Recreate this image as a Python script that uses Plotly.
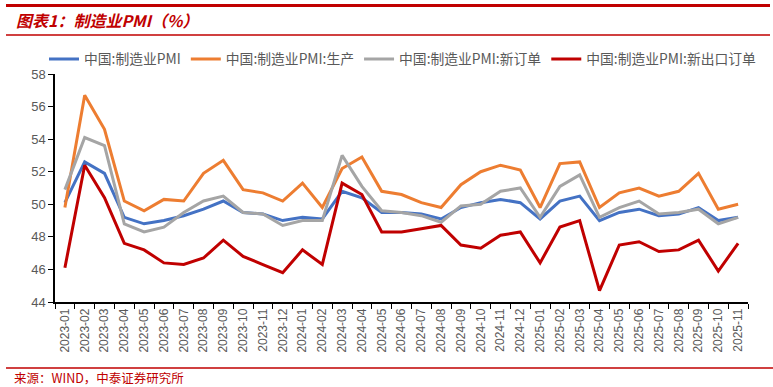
import plotly.graph_objects as go

months = [f"{y}-{m:02d}" for y in (2023, 2024, 2025) for m in range(1, 13)][:35]

pmi = [50.1, 52.6, 51.9, 49.2, 48.8, 49.0, 49.3, 49.7, 50.2, 49.5, 49.4, 49.0,
       49.2, 49.1, 50.8, 50.4, 49.5, 49.5, 49.4, 49.1, 49.8, 50.1, 50.3, 50.1,
       49.1, 50.2, 50.5, 49.0, 49.5, 49.7, 49.3, 49.4, 49.8, 49.0, 49.2]
production = [49.8, 56.7, 54.6, 50.2, 49.6, 50.3, 50.2, 51.9, 52.7, 50.9, 50.7, 50.2,
              51.3, 49.8, 52.2, 52.9, 50.8, 50.6, 50.1, 49.8, 51.2, 52.0, 52.4, 52.1,
              49.8, 52.5, 52.6, 49.8, 50.7, 51.0, 50.5, 50.8, 51.9, 49.7, 50.0]
new_orders = [50.9, 54.1, 53.6, 48.8, 48.3, 48.6, 49.5, 50.2, 50.5, 49.5, 49.4, 48.7,
              49.0, 49.0, 53.0, 51.1, 49.6, 49.5, 49.3, 48.9, 49.9, 50.0, 50.8, 51.0,
              49.2, 51.1, 51.8, 49.2, 49.8, 50.2, 49.4, 49.5, 49.7, 48.8, 49.2]
export_orders = [46.1, 52.4, 50.4, 47.6, 47.2, 46.4, 46.3, 46.7, 47.8, 46.8, 46.3, 45.8,
                 47.2, 46.3, 51.3, 50.6, 48.3, 48.3, 48.5, 48.7, 47.5, 47.3, 48.1, 48.3,
                 46.4, 48.6, 49.0, 44.7, 47.5, 47.7, 47.1, 47.2, 47.8, 45.9, 47.6]

series_names = ["中国:制造业PMI", "中国:制造业PMI:生产", "中国:制造业PMI:新订单", "中国:制造业PMI:新出口订单"]
series_values = [pmi, production, new_orders, export_orders]
series_colors = ["#4472C4", "#ED7D31", "#A5A5A5", "#C00000"]

W, H = 773, 387
L, R, T, B = 55, 25, 74, 85
pw, ph = W - L - R, H - T - B

def px(x):
    return (x - L) / pw

def py(y):
    return (H - B - y) / ph

fig = go.Figure()
for name, vals, col in zip(series_names, series_values, series_colors):
    fig.add_trace(go.Scatter(x=months, y=vals, name=name, mode="lines",
                             line=dict(color=col, width=3)))

font_fam = "Liberation Sans, Noto Sans CJK SC, sans-serif"
fig.update_layout(
    width=W, height=H,
    margin=dict(l=L, r=R, t=T, b=B, autoexpand=False),
    paper_bgcolor="white", plot_bgcolor="white",
    font=dict(family=font_fam, color="#595959", size=12),
    showlegend=True,
    legend=dict(orientation="h", x=px(44), y=py(59), xanchor="left", yanchor="middle",
                font=dict(family="Noto Sans CJK SC", size=13.8, color="#595959"),
                bgcolor="rgba(0,0,0,0)", itemwidth=30, tracegroupgap=0),
    xaxis=dict(type="category", range=[-0.5, 34.5], showgrid=False, automargin=False,
               showline=True, linecolor="#000000", linewidth=1.5,
               ticks="outside", tickson="boundaries", ticklen=5, tickcolor="#000000",
               tickangle=-90, tickfont=dict(size=12, color="#595959"), fixedrange=True),
    yaxis=dict(range=[44, 58], dtick=2, showgrid=False, zeroline=False, automargin=False,
               showline=True, linecolor="#000000", linewidth=1.5,
               ticks="outside", ticklen=5, tickcolor="#000000",
               tickfont=dict(size=13, color="#595959"), fixedrange=True),
)

fig.add_shape(type="line", xref="paper", yref="paper", x0=px(6), x1=px(770),
              y0=py(5.5), y1=py(5.5), line=dict(color="#C00000", width=3))
fig.add_shape(type="line", xref="paper", yref="paper", x0=px(6), x1=px(770),
              y0=py(35), y1=py(35), line=dict(color="#C00000", width=1.5))
fig.add_shape(type="line", xref="paper", yref="paper", x0=px(6), x1=px(773),
              y0=py(368), y1=py(368), line=dict(color="#C00000", width=1.5))

fig.add_annotation(xref="paper", yref="paper", x=px(14), y=py(20), xanchor="left", yanchor="middle",
                   text="<b><i>图表1：制造业PMI（%）</i></b>", showarrow=False,
                   font=dict(family="Noto Sans CJK SC", size=16, color="#C00000"))
fig.add_annotation(xref="paper", yref="paper", x=px(12), y=py(377.5), xanchor="left", yanchor="middle",
                   text="来源：WIND，中泰证券研究所", showarrow=False,
                   font=dict(family="Noto Sans CJK SC", size=12.5, color="#C00000"))

fig.write_html("out.html", config={"displayModeBar": False},
               post_script="document.body.style.margin='0';document.body.style.padding='0';")
